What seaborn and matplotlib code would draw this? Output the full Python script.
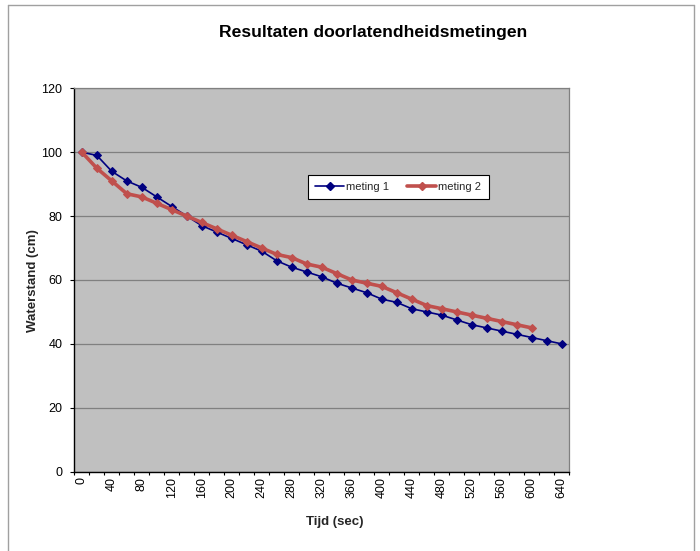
import numpy as np
import pandas as pd
import seaborn as sns
import matplotlib.pyplot as plt
from matplotlib.lines import Line2D
from matplotlib.ticker import MultipleLocator, FixedLocator

sns.set_theme(style="white")
plt.rcParams['font.family'] = ['Liberation Sans', 'DejaVu Sans']

# Measured water level (cm) every 20 seconds
tijd_1 = list(range(0, 641, 20))
meting_1 = [100, 99, 94, 91, 89, 86, 83, 80, 77, 75, 73, 71, 69, 66, 64, 62.5,
            61, 59, 57.5, 56, 54, 53, 51, 50, 49, 47.5, 46, 45, 44, 43, 42, 41, 40]
tijd_2 = list(range(0, 601, 20))
meting_2 = [100, 95, 91, 87, 86, 84, 82, 80, 78, 76, 74, 72, 70, 68, 67, 65,
            64, 62, 60, 59, 58, 56, 54, 52, 51, 50, 49, 48, 47, 46, 45]
x_labels = list(range(0, 641, 40))

df1 = pd.DataFrame({"Tijd (sec)": tijd_1, "Waterstand (cm)": meting_1})
df2 = pd.DataFrame({"Tijd (sec)": tijd_2, "Waterstand (cm)": meting_2})

W, H = 700, 551
fig = plt.figure(figsize=(W / 100, H / 100), dpi=100)
fig.patch.set_facecolor("white")

left, right, top, bottom = 74.3, 569.3, 88.3, 471.7
ax_w, ax_h = right - left, bottom - top
ax = fig.add_axes([left / W, 1 - bottom / H, ax_w / W, ax_h / H])
ax.set_facecolor("#C0C0C0")

blue = "#000080"
red = "#C0504D"

sns.lineplot(data=df1, x="Tijd (sec)", y="Waterstand (cm)", ax=ax, color=blue,
             linewidth=1.2, marker="D", markersize=4.5, markeredgecolor=blue,
             markerfacecolor=blue, zorder=3)
sns.lineplot(data=df2, x="Tijd (sec)", y="Waterstand (cm)", ax=ax, color=red,
             linewidth=2.6, marker="D", markersize=4, markeredgecolor=red,
             markerfacecolor=red, zorder=4)

ax.set_xlim(-10, 650)
ax.set_ylim(0, 120)

# y axis
ax.yaxis.set_major_locator(MultipleLocator(20))
ax.grid(axis="y", color="#808080", linewidth=0.9)
ax.grid(axis="x", visible=False)
ax.set_axisbelow(True)

# x axis: category-style ticks between points, labels every 40 s
ax.xaxis.set_major_locator(FixedLocator(x_labels))
ax.xaxis.set_minor_locator(FixedLocator([t - 10 for t in range(0, 661, 20)]))
ax.set_xticklabels([str(t) for t in x_labels], rotation=90)
ax.tick_params(axis="x", which="major", length=0, pad=3.6, labelsize=9, colors="black")
ax.tick_params(axis="x", which="minor", length=2.4, width=0.8, color="black",
               direction="out", bottom=True)
ax.tick_params(axis="y", which="major", length=3, width=0.8, color="black", direction="out",
               left=True, pad=5.5, labelsize=9, labelcolor="black")

for side in ["left", "bottom"]:
    ax.spines[side].set_color("black")
    ax.spines[side].set_linewidth(1.0)
for side in ["top", "right"]:
    ax.spines[side].set_color("#808080")
    ax.spines[side].set_linewidth(0.9)

ax.set_xlabel("Tijd (sec)", fontsize=9.5, fontweight="bold", va="center")
ax.xaxis.set_label_coords((335 - left) / ax_w, -(522 - bottom) / ax_h)
ax.set_ylabel("Waterstand (cm)", fontsize=9.5, fontweight="bold", va="center")
ax.yaxis.set_label_coords((33 - left) / ax_w, (bottom - 281) / ax_h)

# Legend
handles = [Line2D([], [], color=blue, lw=1.2, marker="D", markersize=4),
           Line2D([], [], color=red, lw=2.6, marker="D", markersize=4)]
leg = ax.legend(handles, ["meting 1", "meting 2"], ncol=2, loc="center",
                bbox_to_anchor=((306.7 + 490) / 2 / W, 1 - 187.2 / H),
                bbox_transform=fig.transFigure, fontsize=8, frameon=True,
                fancybox=False, shadow=False, framealpha=1, borderpad=0.65,
                handlelength=2.6, handletextpad=0.2, columnspacing=1.6)
leg.get_frame().set_edgecolor("black")
leg.get_frame().set_linewidth(0.8)
leg.get_frame().set_facecolor("white")

fig.text(373 / W, 1 - 32 / H, "Resultaten doorlatendheidsmetingen", ha="center",
         va="center", fontsize=12.6, fontweight="bold", color="black")

# Chart area border
border = dict(color="#A0A0A0", linewidth=1.0, transform=fig.transFigure)
fig.add_artist(Line2D([8 / W, 8 / W], [0, 1 - 4.5 / H], **border))
fig.add_artist(Line2D([8 / W, 694 / W], [1 - 4.5 / H, 1 - 4.5 / H], **border))
fig.add_artist(Line2D([694 / W, 694 / W], [1 - 4.5 / H, 0], **border))

fig.savefig("out.png", dpi=100, facecolor="white")
